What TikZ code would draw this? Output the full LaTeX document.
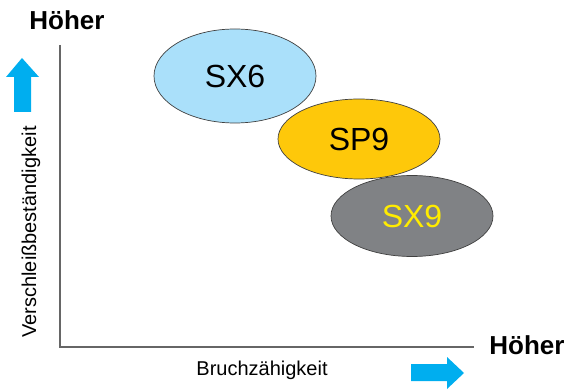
\documentclass[tikz,border=0pt]{standalone}
\usepackage{fontspec}
\setmainfont{Liberation Sans}
\usetikzlibrary{shapes.geometric}
\tikzstyle{canvas} = [x = 1pt, y = -1pt]
\definecolor{arrowColor}{RGB}{0,174,239}
\definecolor{lightBlue}{RGB}{170,224,250}
\definecolor{gradeGold}{RGB}{254,200,10}
\definecolor{gradeGrey}{RGB}{128,130,133}
\definecolor{labelYellow}{RGB}{255,236,0}
\tikzstyle{axisLine} = [color=black!60, line width=1.3pt]
\tikzstyle{gradeStyle} = [ellipse, draw=black!75, line width=.7pt, inner sep=0pt, minimum width=162pt, font=\fontsize{32}{38}\selectfont]
\tikzstyle{higherText} = [font=\bfseries\fontsize{26}{30}\selectfont]
\tikzstyle{axisText} = [font=\fontsize{20}{24}\selectfont]
\tikzstyle{arrowStyle} = [fill=arrowColor]
\newcommand{\rightBlockArrow}[2]{\fill [arrowStyle] (#1 - 53, #2 - 9) -- (#1 - 17, #2 - 9) -- (#1 - 17, #2 - 16) -- (#1, #2) -- (#1 - 17, #2 + 16) -- (#1 - 17, #2 + 8) -- (#1 - 53, #2 + 8) -- cycle;}
\newcommand{\upBlockArrow}[2]{\fill [arrowStyle] (#1 - 8, #2 + 54) -- (#1 - 8, #2 + 19) -- (#1 - 16, #2 + 19) -- (#1, #2) -- (#1 + 17, #2 + 19) -- (#1 + 9, #2 + 19) -- (#1 + 9, #2 + 54) -- cycle;}
\begin{document}
\begin{tikzpicture}[canvas]
  \useasboundingbox (0,0) rectangle (568,390);
  % axes
  \coordinate (origin) at (60,347);
  \coordinate (yEnd) at (60,45);
  \coordinate (xEnd) at (474,347);
  \draw [axisLine] (yEnd) -- (origin) -- (xEnd);
  \node [higherText] (higherY) at (67,20) {Höher};
  \node [higherText] (higherX) at (527,345) {Höher};
  \node [axisText, rotate=90] (wearLabel) at (31,232) {Verschleißbeständigkeit};
  \node [axisText] (toughLabel) at (262,370) {Bruchzähigkeit};
  \upBlockArrow{22}{58}
  \rightBlockArrow{464}{373}
  % grades
  \node [gradeStyle, fill=lightBlue, minimum height=94pt] (sxSix) at (235,76) {SX6};
  \node [gradeStyle, fill=gradeGold, minimum height=80pt] (spNine) at (359,139) {SP9};
  \node [gradeStyle, fill=gradeGrey, minimum height=81pt, text=labelYellow] (sxNine) at (412,216) {SX9};
\end{tikzpicture}
\end{document}
